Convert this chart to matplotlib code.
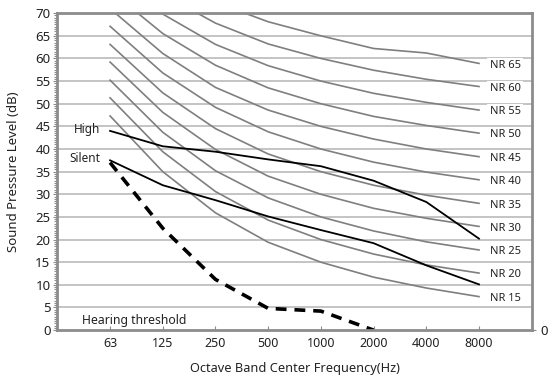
import matplotlib.pyplot as plt
from matplotlib.ticker import MultipleLocator

plt.rcParams['font.family'] = ['Noto Sans', 'DejaVu Sans']

freqs = ["63", "125", "250", "500", "1000", "2000", "4000", "8000"]

# NR curves (dB) per octave band
nr_levels = [15, 20, 25, 30, 35, 40, 45, 50, 55, 60, 65]
nr_curves = [
    [47.3, 35.0, 25.9, 19.4, 15, 11.7, 9.3, 7.4],
    [51.3, 39.4, 30.6, 24.3, 20, 16.8, 14.4, 12.6],
    [55.2, 43.7, 35.2, 29.2, 25, 21.9, 19.5, 17.7],
    [59.2, 48.1, 39.9, 34.0, 30, 26.9, 24.7, 22.9],
    [63.1, 52.4, 44.5, 38.9, 35, 32.0, 29.8, 28.0],
    [67.1, 56.8, 49.2, 43.8, 40, 37.1, 34.9, 33.2],
    [71.0, 61.1, 53.6, 48.6, 45, 42.2, 40.0, 38.3],
    [75.0, 65.5, 58.5, 53.5, 50, 47.2, 45.2, 43.5],
    [78.9, 69.8, 63.1, 58.4, 55, 52.3, 50.3, 48.6],
    [82.9, 74.2, 67.8, 63.2, 60, 57.4, 55.4, 53.8],
    [86.8, 78.5, 72.4, 68.1, 65, 62.2, 61.2, 58.9],
]

high = [44.0, 40.6, 39.4, 37.7, 36.2, 33.0, 28.3, 20.2]
silent = [37.5, 32.0, 28.7, 25.1, 22.1, 19.2, 14.3, 10.1]
threshold = [37.0, 22.5, 11.2, 4.8, 4.2, 0.0]

fig = plt.figure(figsize=(5.49, 3.76), dpi=100)
ax = fig.add_axes([0.1045, 0.122, 0.864, 0.843])

x = list(range(1, len(freqs) + 1))
frame = "#8c8c8c"
txt = "#222222"

# gridlines
for yv in range(5, 70, 5):
    ax.axhline(yv, color="#c4c4c4", lw=1.4, zorder=1)

for lvl, vals in zip(nr_levels, nr_curves):
    ax.plot(x, vals, color="#7f7f7f", lw=1.2, zorder=2)
    ax.text(8.2, vals[-1] - 0.4, "NR %d" % lvl, fontsize=8, va="center", ha="left",
            color=txt, zorder=4,
            bbox=dict(facecolor="white", edgecolor="none", pad=1.5))

ax.plot(x, high, color="black", lw=1.3, zorder=3)
ax.plot(x, silent, color="black", lw=1.3, zorder=3)
ax.plot(x[:len(threshold)], threshold, color="black", lw=2.6, ls=(0, (3, 2.2)), zorder=3)

ax.text(0.82, 44.2, "High", fontsize=8.5, ha="right", va="center", color=txt)
ax.text(0.82, 38.0, "Silent", fontsize=8.5, ha="right", va="center", color=txt)
ax.text(1.46, 2.2, "Hearing threshold", fontsize=8.8, ha="center", va="center", color=txt)

ax.set_xlim(0, 9)
ax.set_ylim(0, 70)
ax.set_xticks(x)
ax.set_xticklabels(freqs)
ax.set_yticks(range(0, 75, 5))
ax.yaxis.set_minor_locator(MultipleLocator(0.5))
ax.tick_params(axis="x", direction="in", length=3, color=frame, labelsize=9, pad=5, labelcolor=txt)
ax.tick_params(axis="y", which="major", direction="out", length=3, color=frame, labelsize=9.5, pad=2,
               labelcolor=txt)
ax.tick_params(axis="y", which="minor", direction="out", length=2.5, color=frame, width=0.8)
for s in ax.spines.values():
    s.set_color(frame)
    s.set_linewidth(2)
    s.set_zorder(5)

ax.set_xlabel("Octave Band Center Frequency(Hz)", fontsize=9.2, color=txt)
ax.xaxis.set_label_coords(0.5, -0.1)
ax.set_ylabel("Sound Pressure Level (dB)", fontsize=9.5, color=txt)
ax.yaxis.set_label_coords(-0.078, 0.5)

ax2 = ax.twinx()
ax2.set_ylim(0, 70)
ax2.set_yticks([0])
ax2.set_yticklabels(["0"])
ax2.tick_params(axis="y", direction="out", length=3, color=frame, labelsize=9.5, pad=3, labelcolor=txt)
for s in ax2.spines.values():
    s.set_visible(False)

fig.savefig("out.png", dpi=100)
